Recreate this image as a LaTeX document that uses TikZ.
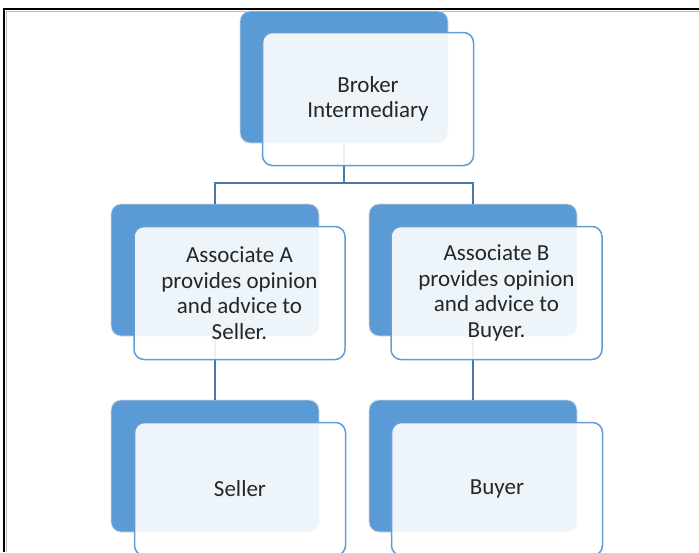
\documentclass[tikz,border=0pt]{standalone}
\usepackage{fontspec}
\setmainfont{Carlito}
\definecolor{boxblue}{RGB}{91,155,213}
\definecolor{edgeblue}{RGB}{100,156,212}
\definecolor{linkblue}{RGB}{72,120,168}
\definecolor{textgray}{RGB}{38,38,38}
\begin{document}
\begin{tikzpicture}[x=1pt,y=-1pt,
  darkbox/.style={rectangle, rounded corners=10pt, fill=boxblue, draw=black!15, line width=0.8pt, minimum width=208pt, minimum height=132pt, inner sep=0pt},
  lightbox/.style={rectangle, rounded corners=10pt, fill=white, fill opacity=0.9, text opacity=1, draw=edgeblue, line width=1.5pt, minimum width=211pt, minimum height=133pt, align=center, text=textgray, font=\fontsize{23}{25.5}\selectfont, inner sep=0pt},
  link/.style={draw=linkblue, line width=1.5pt}]
\useasboundingbox (0,0) rectangle (699,552);
\clip (0,0) rectangle (699,552);
% frame
\draw[gray!55, line width=1pt] (6.5,552) -- (6.5,11.5) -- (699,11.5);
\draw[black, line width=2pt] (4,552) -- (4,9) -- (699,9);
% dark back boxes
\node[darkbox] (d0) at (344,77) {};
\node[darkbox] (d1) at (215,270) {};
\node[darkbox] (d2) at (473,270) {};
\node[darkbox] (d3) at (215,466) {};
\node[darkbox] (d4) at (473,466) {};
% connectors
\coordinate (j) at (344,183);
\draw[link] (d0.south) -- (j) -| (d1.north);
\draw[link] (j) -| (d2.north);
\draw[link] (d1.south) -- (d3.north);
\draw[link] (d2.south) -- (d4.north);
% front boxes
\node[lightbox] (l0) at (368,99) {Broker\\Intermediary};
\node[lightbox] (l1) at (239.5,293) {Associate A\\provides opinion\\and advice to\\Seller.};
\node[lightbox] (l2) at (496.5,293) {Associate B\\provides opinion\\and advice to\\Buyer.};
\node[lightbox] (l3) at (240,489) {Seller};
\node[lightbox] (l4) at (497,489) {Buyer};
\end{tikzpicture}
\end{document}
